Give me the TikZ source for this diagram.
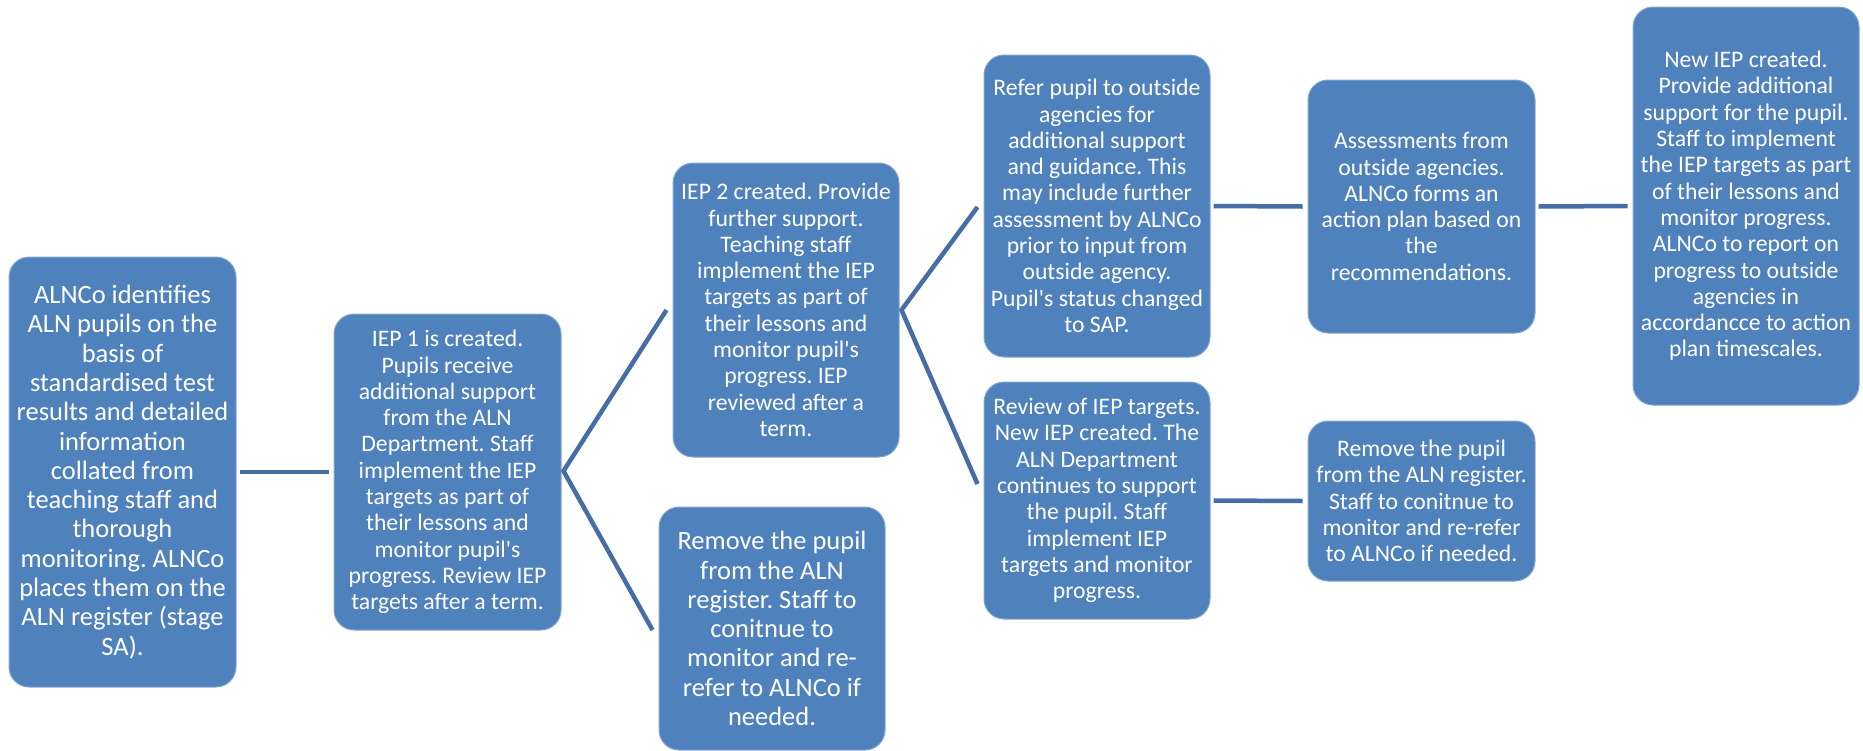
\documentclass[tikz,border=0pt]{standalone}
\usepackage{fontspec}
\setmainfont{Carlito}[Ligatures=TeXOff]
\usetikzlibrary{calc}
\definecolor{boxblue}{HTML}{4F81BD}
\definecolor{linkblue}{RGB}{70,110,165}
\newcommand\fsbig{\fontsize{26.5}{29.3}\selectfont}
\newcommand\fsnorm{\fontsize{23.7}{26.3}\selectfont}
\tikzset{
  box/.style={rectangle, rounded corners=20pt, fill=boxblue, draw=boxblue!70!white,
    line width=1pt, text=white, align=center, inner sep=0pt, font=\fsnorm},
  link/.style={draw=linkblue, line width=4.5pt}
}
\begin{document}
\frenchspacing
\begin{tikzpicture}[x=1pt,y=-1pt]
\useasboundingbox (0,0) rectangle (1863,750);
\node[box, font=\fsbig, minimum width=227pt, minimum height=430pt] (b1) at (122.5,472)
 {ALNCo identifies\\ALN pupils on the\\basis of\\standardised test\\results and detailed\\information\\collated from\\teaching staff and\\thorough\\monitoring. ALNCo\\places them on the\\ALN register (stage\\SA).};
\node[box, minimum width=227pt, minimum height=316pt] (b2) at (447.5,472)
 {IEP 1 is created.\\Pupils receive\\additional support\\from the ALN\\Department. Staff\\implement the IEP\\targets as part of\\their lessons and\\monitor pupil's\\progress. Review IEP\\targets after a term.};
\node[box, minimum width=226pt, minimum height=294pt] (b3) at (786,310)
 {IEP 2 created. Provide\\further support.\\Teaching staff\\implement the IEP\\targets as part of\\their lessons and\\monitor pupil's\\progress. IEP\\reviewed after a\\term.};
\node[box, font=\fsbig, minimum width=226pt, minimum height=243pt] (b4) at (772,628.5)
 {Remove the pupil\\from the ALN\\register. Staff to\\conitnue to\\monitor and re-\\refer to ALNCo if\\needed.};
\node[box, minimum width=226pt, minimum height=302pt] (b5) at (1097,206)
 {Refer pupil to outside\\agencies for\\additional support\\and guidance. This\\may include further\\assessment by ALNCo\\prior to input from\\outside agency.\\Pupil's status changed\\to SAP.};
\node[box, minimum width=227pt, minimum height=253pt] (b6) at (1421.5,206.5)
 {Assessments from\\outside agencies.\\ALNCo forms an\\action plan based on\\the\\recommendations.};
\node[box, minimum width=226pt, minimum height=398pt] (b7) at (1746,206)
 {New IEP created.\\Provide additional\\support for the pupil.\\Staff to implement\\the IEP targets as part\\of their lessons and\\monitor progress.\\ALNCo to report on\\progress to outside\\agencies in\\accordancce to action\\plan timescales.};
\node[box, minimum width=226pt, minimum height=237pt] (b8) at (1097,500.5)
 {Review of IEP targets.\\New IEP created. The\\ALN Department\\continues to support\\the pupil. Staff\\implement IEP\\targets and monitor\\progress.};
\node[box, minimum width=227pt, minimum height=160pt] (b9) at (1421.5,501)
 {Remove the pupil\\from the ALN register.\\Staff to conitnue to\\monitor and re-refer\\to ALNCo if needed.};
% connectors
\draw[link] ($(b1.east)+(3,0)$) -- ($(b2.west)+(-5,0)$);
\coordinate (v2) at ($(b2.east)+(2,-1)$);
\draw[link] ($(b3.west)+(-6,0)$) -- (v2) -- ($(b4.west)+(-6,1.5)$);
\coordinate (v3) at ($(b3.east)+(2,0)$);
\draw[link] ($(b5.west)+(-6,1)$) -- (v3) -- ($(b8.west)+(-6,-16.5)$);
\draw[link] ($(b5.east)+(3,0)$) -- ($(b6.west)+(-5,0)$);
\draw[link] ($(b8.east)+(3,0)$) -- ($(b9.west)+(-5,0)$);
\draw[link] ($(b6.east)+(3,0)$) -- ($(b7.west)+(-5,0)$);
\end{tikzpicture}
\end{document}
